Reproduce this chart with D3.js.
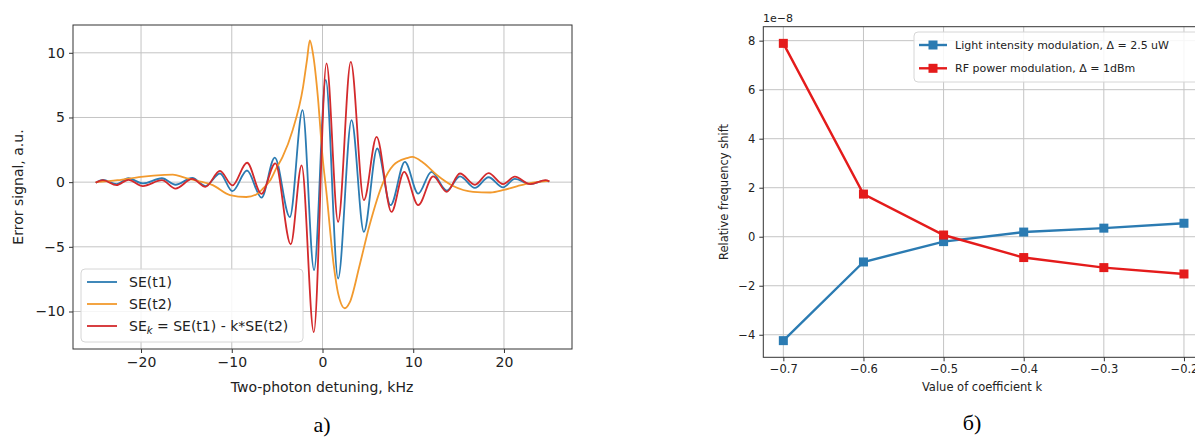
<!DOCTYPE html>
<html>
<head>
<meta charset="utf-8">
<script src="https://cdn.jsdelivr.net/npm/d3@7"></script>
<style>
body { margin: 0; background: white; }
svg text { font-family: "DejaVu Sans", sans-serif; fill: #222; }
.grid line { stroke: #c4c4c4; stroke-width: 1; }
.axis path { display: none; }
.axis line { stroke: #333; }
.frame { fill: none; stroke: #333; stroke-width: 1; }
.caption { font-family: "Liberation Serif", "Times New Roman", serif !important; font-size: 22px; fill: #000 !important; }
</style>
</head>
<body>
<script>
// ---- panel a) : error signals vs two-photon detuning (kHz)
const se1X = [-25, -24.2, -22.7, -21.4, -19.8, -17.7, -16.2, -14.35, -12.9, -11.3, -9.93, -8.32, -6.73, -5.26, -3.6, -2.2, -0.93, 0.36, 1.72, 3.2, 4.56, 6.03, 7.5, 9.08, 10.55, 12.0, 13.7, 15.15, 16.8, 18.3, 19.9, 21.2, 22.9, 24.5, 25]
const se1Y = [-0.05, 0.17, -0.15, 0.3, -0.1, 0.3, -0.2, 0.32, -0.3, 0.67, -0.7, 0.9, -1.2, 1.9, -2.7, 5.57, -6.8, 7.9, -7.45, 4.8, -3.84, 2.6, -1.78, 1.57, -0.88, 0.8, -0.65, 0.45, -0.45, 0.38, -0.4, 0.25, -0.15, 0.12, 0.05]

const se2X = [-25, -22.6, -20.0, -17.4, -16.5, -15.2, -13.8, -12.1, -10.2, -8.4, -7.3, -6.55, -5.8, -5.1, -4.4, -3.3, -2.14, -1.7, -1.4, -1.0, -0.5, 0.0, 0.45, 1.25, 1.72, 2.46, 3.0, 4.1, 5.2, 6.7, 7.8, 9.27, 9.9, 11.1, 12.6, 14.4, 16.6, 18.5, 20.0, 21.5, 23.0, 25]
const se2Y = [0.0, 0.15, 0.41, 0.56, 0.58, 0.35, 0.1, -0.23, -1.0, -1.15, -0.95, -0.49, 0.1, 1.06, 1.96, 4.0, 7.37, 9.5, 10.95, 9.7, 6.5, 2.0, -0.9, -6.5, -8.6, -9.75, -9.3, -6.4, -3.3, 0.0, 1.3, 1.85, 1.95, 1.5, 0.55, -0.3, -0.75, -0.8, -0.6, -0.3, -0.05, 0.1]

const sekX = [-25, -24.2, -22.7, -21.4, -19.8, -17.7, -16.2, -14.35, -12.9, -11.3, -9.93, -8.32, -6.73, -5.2, -3.5, -2.3, -0.96, 0.44, 1.72, 3.12, 4.56, 5.96, 7.6, 9.0, 10.55, 12.2, 13.7, 15.15, 16.8, 18.3, 19.9, 21.2, 22.9, 24.6, 25]
const sekY = [-0.05, 0.15, -0.23, 0.18, -0.3, 0.15, -0.5, 0.25, -0.36, 0.87, -0.25, 1.5, -0.9, 1.45, -4.8, 1.3, -11.6, 9.18, -3.07, 9.3, -1.39, 3.5, -2.3, 0.8, -1.78, 0.45, -0.75, 0.67, -0.2, 0.7, -0.15, 0.42, -0.15, 0.15, 0.05]

const leftXTicks = [-20, -10, 0, 10, 20]
const leftYTicks = [-10, -5, 0, 5, 10]

// ---- panel б) : relative frequency shift (x1e-8) vs coefficient k
const kValues = [-0.7, -0.6, -0.5, -0.4, -0.3, -0.2]
const lightShift = [-4.24, -1.03, -0.2, 0.19, 0.35, 0.55]
const rfShift = [7.89, 1.74, 0.07, -0.85, -1.26, -1.52]

const rightXTicks = [-0.7, -0.6, -0.5, -0.4, -0.3, -0.2]
const rightYTicks = [-4, -2, 0, 2, 4, 6, 8]

const W = 1195, H = 437
const svg = d3.select("body").append("svg")
    .attr("xmlns", "http://www.w3.org/2000/svg")
    .attr("width", W)
    .attr("height", H)
svg.append("rect").attr("width", W).attr("height", H).attr("fill", "white")

const colors = {blue: "#2b7bb2", orange: "#f29a2e", red: "#d32a2c", redR: "#e41b1b"}

function frame(g, x, y, xTicks, yTicks, fontSize, fmtX, fmtY) {
    const [x0, x1] = x.range(), [y0, y1] = y.range()
    const grid = g.append("g").attr("class", "grid")
    grid.selectAll(".vx").data(xTicks).enter().append("line")
        .attr("x1", d => x(d)).attr("x2", d => x(d)).attr("y1", y0).attr("y2", y1)
    grid.selectAll(".hy").data(yTicks).enter().append("line")
        .attr("y1", d => y(d)).attr("y2", d => y(d)).attr("x1", x0).attr("x2", x1)
    g.append("g").attr("class", "axis")
        .attr("transform", `translate(0,${y0})`)
        .call(d3.axisBottom(x).tickValues(xTicks).tickSize(4).tickPadding(4).tickFormat(fmtX))
        .call(a => a.selectAll("text").attr("font-size", fontSize).attr("font-family", null))
    g.append("g").attr("class", "axis")
        .attr("transform", `translate(${x0},0)`)
        .call(d3.axisLeft(y).tickValues(yTicks).tickSize(4).tickPadding(4).tickFormat(fmtY))
        .call(a => a.selectAll("text").attr("font-size", fontSize).attr("font-family", null))
}

// ---------------- panel a)
const xL = d3.scaleLinear().domain([-27.5, 27.5]).range([73, 572])
const yL = d3.scaleLinear().domain([-12.9, 12.15]).range([349, 25])
const left = svg.append("g")
frame(left, xL, yL, leftXTicks, leftYTicks, 14, d3.format("d"), d3.format("d"))

const lineL = d3.line().x(d => xL(d[0])).y(d => yL(d[1])).curve(d3.curveMonotoneX)
const seriesL = [
    {name: "SE(t1)", xs: se1X, ys: se1Y, color: colors.blue},
    {name: "SE(t2)", xs: se2X, ys: se2Y, color: colors.orange},
    {name: "SEk", xs: sekX, ys: sekY, color: colors.red},
]
left.selectAll("path.series").data(seriesL).enter().append("path")
    .attr("class", "series")
    .attr("fill", "none")
    .attr("stroke", d => d.color)
    .attr("stroke-width", 1.8)
    .attr("stroke-linejoin", "round")
    .attr("d", d => lineL(d.xs.map((v, i) => [v, d.ys[i]])))
left.append("rect").attr("class", "frame")
    .attr("x", 73).attr("y", 25).attr("width", 572 - 73).attr("height", 349 - 25)

left.append("text").attr("x", 322).attr("y", 392).attr("text-anchor", "middle")
    .attr("font-size", 14).text("Two-photon detuning, kHz")
left.append("text").attr("transform", "translate(23,187) rotate(-90)").attr("text-anchor", "middle")
    .attr("font-size", 14).text("Error signal, a.u.")

// legend a)
const legL = left.append("g")
legL.append("rect").attr("x", 81).attr("y", 269).attr("width", 222).attr("height", 73)
    .attr("rx", 4).attr("fill", "white").attr("fill-opacity", 0.85).attr("stroke", "#d6d6d6")
const legRows = legL.selectAll("g.row").data(seriesL).enter().append("g")
    .attr("transform", (d, i) => `translate(0,${282 + i * 22})`)
legRows.append("line").attr("x1", 87).attr("x2", 117).attr("stroke", d => d.color).attr("stroke-width", 1.8)
const legText = legRows.append("text").attr("x", 129).attr("y", 5).attr("font-size", 14)
legText.filter(d => d.name !== "SEk").text(d => d.name)
legText.filter(d => d.name === "SEk").each(function () {
    const t = d3.select(this)
    t.append("tspan").text("SE")
    t.append("tspan").attr("font-style", "italic").attr("font-size", 10).attr("dy", 3).text("k")
    t.append("tspan").attr("dy", -3).text(" = SE(t1) - k*SE(t2)")
})

svg.append("text").attr("class", "caption").attr("x", 322).attr("y", 432).attr("text-anchor", "middle").text("a)")

// ---------------- panel б)
const xR = d3.scaleLinear().domain([-0.725, -0.175]).range([763.3, 1204])
const yR = d3.scaleLinear().domain([-4.92, 8.57]).range([357.3, 26.7])
const right = svg.append("g")
frame(right, xR, yR, rightXTicks, rightYTicks, 11.5, d3.format(".1f"), d3.format("d"))

const seriesR = [
    {name: "Light intensity modulation, \u0394 = 2.5 uW", ys: lightShift, color: colors.blue},
    {name: "RF power modulation, \u0394 = 1dBm", ys: rfShift, color: colors.redR},
]
const lineR = d3.line().x(d => xR(d[0])).y(d => yR(d[1]))
const gR = right.selectAll("g.seriesR").data(seriesR).enter().append("g").attr("class", "seriesR")
gR.append("path").attr("fill", "none").attr("stroke", d => d.color).attr("stroke-width", 2.4)
    .attr("d", d => lineR(kValues.map((k, i) => [k, d.ys[i]])))
gR.selectAll("rect").data(d => kValues.map((k, i) => ({k, v: d.ys[i], color: d.color}))).enter().append("rect")
    .attr("x", d => xR(d.k) - 4.5).attr("y", d => yR(d.v) - 4.5)
    .attr("width", 9).attr("height", 9).attr("fill", d => d.color)
right.append("rect").attr("class", "frame")
    .attr("x", 763.3).attr("y", 26.7).attr("width", 1204 - 763.3).attr("height", 357.3 - 26.7)

right.append("text").attr("x", 763).attr("y", 22).attr("font-size", 11).text("1e\u22128")
right.append("text").attr("x", 982).attr("y", 391).attr("text-anchor", "middle")
    .attr("font-size", 11.5).text("Value of coefficient k")
right.append("text").attr("transform", "translate(728,192) rotate(-90)").attr("text-anchor", "middle")
    .attr("font-size", 11.5).text("Relative frequency shift")

// legend б)
const legR = right.append("g")
legR.append("rect").attr("x", 914).attr("y", 32).attr("width", 300).attr("height", 50)
    .attr("rx", 4).attr("fill", "white").attr("fill-opacity", 0.85).attr("stroke", "#d6d6d6")
const legRRows = legR.selectAll("g.row").data(seriesR).enter().append("g")
    .attr("transform", (d, i) => `translate(0,${45 + i * 23.3})`)
legRRows.append("line").attr("x1", 919).attr("x2", 947).attr("stroke", d => d.color).attr("stroke-width", 2.4)
legRRows.append("rect").attr("x", 928.5).attr("y", -4.5).attr("width", 9).attr("height", 9).attr("fill", d => d.color)
legRRows.append("text").attr("x", 955).attr("y", 4).attr("font-size", 11).text(d => d.name)

svg.append("text").attr("class", "caption").attr("x", 972).attr("y", 430).attr("text-anchor", "middle").text("\u0431)")
</script>
</body>
</html>
